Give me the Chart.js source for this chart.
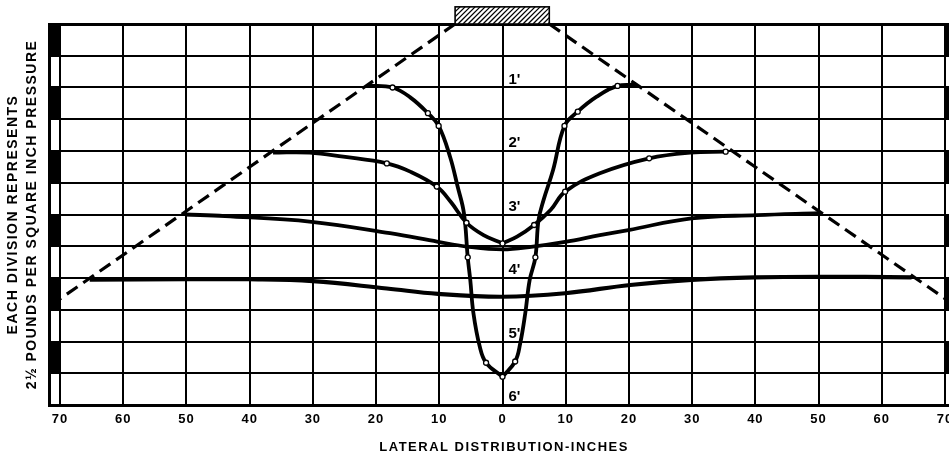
<!DOCTYPE html>
<html><head><meta charset="utf-8">
<script src="https://cdn.jsdelivr.net/npm/chart.js@4"></script>
<style>html,body{margin:0;padding:0;background:#fff;}canvas{display:block;}</style>
</head><body>
<canvas id="c" width="949" height="454"></canvas>
<script>
// ---- data (x: lateral distance in inches, y: chart divisions, 1 division = 2.5 psi) ----
const xTicks = [-70,-60,-50,-40,-30,-20,-10,0,10,20,30,40,50,60,70];
const depthLabels = ["1'", "2'", "3'", "4'", "5'", "6'"];
const depthLevels = [10, 8, 6, 4, 2, 0];
const footingEdges = [-7.5, 7.4];
const footingTop = 12.54;
const markerBands = [[1,2],[3,4],[5,6],[7,8],[9,10],[11,12]];

const spreadLeft  = [[-7.5, 12], [-70.3, 3.3]];
const spreadRight = [[7.4, 12], [70.0, 3.35]];

const depth1Left  = [[-21.2,10.06],[-17.4,10.0],[-14.6,9.69],[-11.8,9.19],[-10.1,8.79],[-8.3,7.82],[-7.1,6.88],[-6.1,6.04],[-5.5,4.65],[-5.1,3.94],[-4.6,2.89],[-3.6,1.84],[-2.6,1.33],[0,0.89]];
const depth1Right = [[0,0.89],[2.0,1.37],[2.8,1.94],[3.6,2.89],[4.3,3.94],[5.2,4.65],[5.7,5.83],[6.5,6.46],[8.0,7.4],[9.8,8.79],[11.9,9.24],[14.9,9.71],[18.2,10.05],[21.2,10.08]];
const depth1Marks = [[-17.4,10.0],[-11.8,9.19],[-10.1,8.79],[-5.5,4.65],[-2.6,1.33],[0,0.89],[2.0,1.37],[5.2,4.65],[9.8,8.79],[11.9,9.24],[18.2,10.05]];

const depth2Left  = [[-36.3,7.95],[-30.5,7.95],[-25.2,7.82],[-18.3,7.61],[-14.6,7.35],[-10.4,6.88],[-8.2,6.4],[-5.7,5.74],[-3.0,5.35],[0,5.09]];
const depth2Right = [[0,5.09],[2.3,5.3],[5.0,5.67],[7.6,6.14],[9.9,6.72],[15.4,7.3],[23.2,7.77],[29.7,7.95],[35.3,7.98]];
const depth2Marks = [[-18.3,7.61],[-10.4,6.88],[-5.7,5.74],[0,5.09],[5.0,5.67],[9.9,6.72],[23.2,7.77],[35.3,7.98]];

const depth3 = [[-50.2,6.0],[-43.9,5.95],[-30.2,5.77],[-17.8,5.41],[-10.2,5.14],[-5.7,4.99],[0,4.9],[4.8,4.99],[9.9,5.14],[15.4,5.35],[19.9,5.51],[29.9,5.88],[40.2,5.98],[50,6.04]];
const depth4 = [[-65.3,3.95],[-50,3.96],[-40.2,3.96],[-30,3.9],[-18.3,3.67],[-10.2,3.5],[0,3.41],[9.9,3.52],[20.2,3.78],[29.9,3.94],[39.9,4.02],[50,4.04],[64.7,4.02]];

const toPts = a => a.map(p => ({x: p[0], y: p[1]}));
const FONT = "'Liberation Sans', Arial, sans-serif";

function curve(data, extra) {
  return Object.assign({
    type: 'line', data: toPts(data), borderColor: '#000', borderWidth: 3.8,
    pointRadius: 0, tension: 0.4, fill: false, clip: false, order: 2
  }, extra || {});
}
function marks(data) {
  return {type: 'scatter', data: toPts(data), showLine: false, pointRadius: 2.5,
    pointBackgroundColor: '#fff', pointBorderColor: '#000', pointBorderWidth: 1.3, clip: false, order: 0};
}

const decor = {
  id: 'decor',
  afterLayout(chart) {
    // let the plot run to the right edge of the canvas, as in the original print
    const xs = chart.scales.x, W = chart.width;
    chart.chartArea.right = W;
    chart.chartArea.width = W - chart.chartArea.left;
    xs.right = W; xs.width = W - xs.left;
    xs.configure();
  },
  beforeDraw(chart) {
    const c = chart.ctx;
    c.save(); c.fillStyle = '#fff'; c.fillRect(0, 0, chart.width, chart.height); c.restore();
    c.letterSpacing = '1.5px';
  },
  beforeDatasetsDraw(chart) {
    const c = chart.ctx, xs = chart.scales.x, ys = chart.scales.y;
    c.letterSpacing = '1px';
    c.save();
    c.fillStyle = '#000';
    const l0 = xs.getPixelForValue(xs.min), l1 = xs.getPixelForValue(-70);
    const r0 = xs.getPixelForValue(70), r1 = xs.getPixelForValue(xs.max);
    markerBands.forEach(b => {
      const t = ys.getPixelForValue(b[1]), btm = ys.getPixelForValue(b[0]);
      c.fillRect(l0, t, l1 - l0, btm - t);
      c.fillRect(r0, t, r1 - r0, btm - t);
    });
    c.restore();
  },
  afterDraw(chart) {
    const c = chart.ctx, xs = chart.scales.x, ys = chart.scales.y;
    c.save();
    // footing (hatched)
    const fx0 = xs.getPixelForValue(footingEdges[0]), fx1 = xs.getPixelForValue(footingEdges[1]);
    const fy0 = ys.getPixelForValue(footingTop), fy1 = ys.getPixelForValue(12);
    c.fillStyle = '#fff'; c.fillRect(fx0, fy0, fx1 - fx0, fy1 - fy0);
    c.save();
    c.beginPath(); c.rect(fx0, fy0, fx1 - fx0, fy1 - fy0); c.clip();
    c.strokeStyle = '#000'; c.lineWidth = 1.3;
    const h = fy1 - fy0;
    for (let x = fx0 - h; x < fx1 + h; x += 5) {
      c.beginPath(); c.moveTo(x, fy1); c.lineTo(x + h, fy0); c.stroke();
    }
    c.restore();
    c.strokeStyle = '#000'; c.lineWidth = 1.6;
    c.strokeRect(fx0, fy0, fx1 - fx0, fy1 - fy0);
    // depth labels
    c.letterSpacing = '0px';
    c.fillStyle = '#000';
    c.font = 'bold 15px ' + FONT;
    c.textAlign = 'left'; c.textBaseline = 'middle';
    const x0 = xs.getPixelForValue(0);
    depthLabels.forEach((t, i) => {
      c.fillText(t, x0 + 6, ys.getPixelForValue(depthLevels[i]) - 8);
    });
    c.restore();
    c.letterSpacing = '0px';
  }
};

new Chart(document.getElementById('c'), {
  data: {
    datasets: [
      curve(spreadLeft, {tension: 0, borderWidth: 3.2, borderDash: [13, 7]}),
      curve(spreadRight, {tension: 0, borderWidth: 3.2, borderDash: [13, 7]}),
      curve(depth1Left), curve(depth1Right),
      curve(depth2Left), curve(depth2Right),
      curve(depth3), curve(depth4, {borderWidth: 4.2}),
      marks(depth1Marks), marks(depth2Marks)
    ]
  },
  options: {
    responsive: false, animation: false, events: [],
    layout: {padding: {top: 24, left: 0, right: 0, bottom: 0}},
    plugins: {legend: {display: false}, tooltip: {enabled: false}},
    scales: {
      x: {
        type: 'linear', position: 'bottom', min: -71.74, max: 70.63, bounds: 'data',
        afterBuildTicks: s => { s.ticks = xTicks.map(v => ({value: v})); },
        ticks: {z: 1, stepSize: 10, includeBounds: false, autoSkip: false, maxRotation: 0, padding: 7,
          color: '#000', font: {family: FONT, size: 13, weight: 'bold'},
          callback: v => String(Math.abs(v))},
        grid: {color: '#000', lineWidth: 2, drawTicks: false},
        border: {color: '#000', width: 3},
        title: {display: true, text: '  LATERAL DISTRIBUTION-INCHES', color: '#000',
          font: {family: FONT, size: 13, weight: 'bold', lineHeight: 1.0}, padding: {top: 0, bottom: 0}},
        afterFit: s => { s.height = 49; s.paddingLeft = 0; s.paddingRight = 0; }
      },
      y: {
        type: 'linear', position: 'left', min: 0, max: 12, bounds: 'data',
        ticks: {display: false, stepSize: 1},
        grid: {color: '#000', lineWidth: ctx => (ctx.tick && ctx.tick.value === 12) ? 3 : 2, drawTicks: false},
        border: {color: '#000', width: 3},
        title: {display: true, text: ['EACH DIVISION REPRESENTS', '2½ POUNDS PER SQUARE INCH PRESSURE'], color: '#000',
          font: {family: FONT, size: 14, weight: 'bold', lineHeight: '19px'}, padding: {top: 3.5, bottom: 0}},
        afterFit: s => { s.width = 49; s.paddingTop = 0; s.paddingBottom = 0; }
      }
    }
  },
  plugins: [decor]
});
</script>
</body></html>
